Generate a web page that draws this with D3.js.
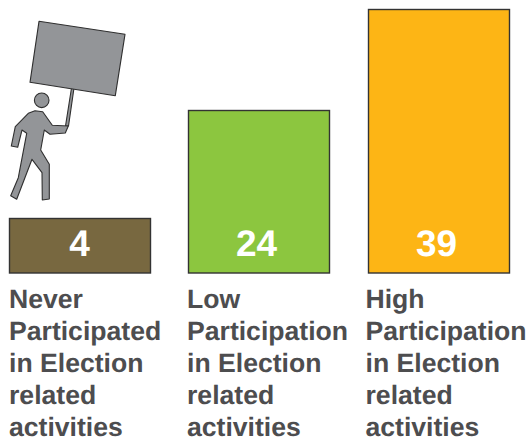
<!DOCTYPE html>
<html><head><meta charset="utf-8">
<script src="https://cdn.jsdelivr.net/npm/d3@7"></script>
<style>html,body{margin:0;padding:0;background:#fff}svg{display:block}text{text-rendering:geometricPrecision}</style>
</head><body><div id="c"></div>
<script>
const categories = ["Never","Low","High"];
const values = [4,24,39];
const colours = ["#786840","#8CC63F","#FDB515"];
const labelLines = [
  ["Never","Participated","in Election","related","activities"],
  ["Low","Participation","in Election","related","activities"],
  ["High","Participation","in Election","related","activities"]
];
const W=527,H=439;
const svg=d3.select("#c").append("svg").attr("width",W).attr("height",H);
// The original is pictorial: the smallest bar is taller than proportional, so the scale has a knot at 4.
const y=d3.scaleLinear().domain([0,4,24,39]).range([273,218.5,110.5,9.5]);
const x=d3.scaleOrdinal().domain(categories).range([9.5,188.5,368.5]);
const barW=141;
const valX=d3.scaleOrdinal().domain(categories).range([79.5,256.5,436.5]);
const textX=d3.scaleOrdinal().domain(categories).range([9,187,365.5]);
const g=svg.selectAll("g.b").data(categories).join("g").attr("class","b");
g.append("rect").attr("x",d=>x(d)).attr("width",barW)
 .attr("y",(d,i)=>y(values[i])).attr("height",(d,i)=>y(0)-y(values[i]))
 .attr("fill",(d,i)=>colours[i]).attr("stroke","#333").attr("stroke-width",1.4);
g.append("text").attr("x",d=>valX(d)).attr("y",256).attr("text-anchor","middle")
 .attr("font-family","Liberation Sans").attr("font-weight","bold").attr("font-size",37)
 .attr("fill","#fff").text((d,i)=>values[i]);
const lineY=d3.scalePoint().domain(d3.range(5)).range([308,436]);
g.each(function(d,i){
  d3.select(this).selectAll("text.l").data(labelLines[i]).join("text").attr("class","l")
   .attr("x",textX(d)).attr("y",(t,j)=>lineY(j))
   .attr("font-family","Liberation Sans").attr("font-weight","bold").attr("font-size",26.6)
   .attr("fill","#4d4d4f").text(t=>t);
});
// Pictogram (decoration, not data)
const fig=svg.append("g").attr("fill","#939598").attr("stroke","#2f2f2f").attr("stroke-width",1.1).attr("stroke-linejoin","round");
fig.append("path").attr("d","M71.5,88L65.5,126L68.5,126L74,88Z");
fig.append("path").attr("d","M39,21.3L125,34.3L115.3,95.7L30,82.3Z");
fig.append("circle").attr("cx",41.7).attr("cy",100.3).attr("r",7.3);
fig.append("path").attr("d","M42.7,111.7L52.3,125.3L68.3,126L65.3,133L50,134.3L44.3,130L40.7,150L49.3,164.3L49.3,199L42.3,200L42,172.7L32,159.3L16.7,199.3L10.7,195.7L18.3,177.7L26.7,133.3L22,130L17.7,147.3L11.3,146L15.3,126.7L28.3,113.3L35,110.7Z");
</script></body></html>
